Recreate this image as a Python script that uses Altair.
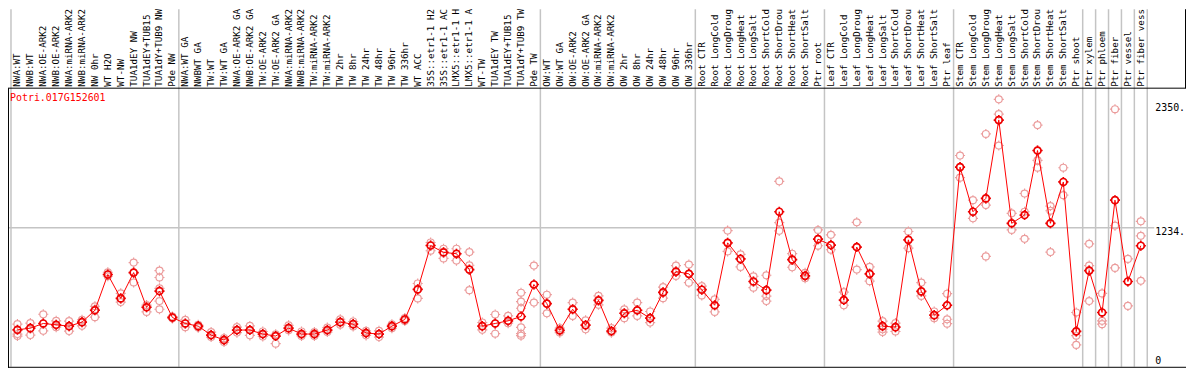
import altair as alt
import pandas as pd

gene = "Potri.017G152601"

# labels as far as they are visible in the header (long names are cut at the top edge)
categories = [
    "NWA:WT", "NWB:WT", "NWA:OE-ARK2", "NWB:OE-ARK2", "NWA:miRNA-ARK2", "NWB:miRNA-ARK2",
    "NW 0hr", "WT H2O", "WT-NW", "TUA1dEY NW", "TUA1dEY+TUB15", "TUA1dY+TUB9 NW", "Pde NW",
    "NWA:WT GA", "NWBWT GA", "TW:WT", "TW:WT GA", "NWA:OE-ARK2 GA", "NWB:OE-ARK2 GA",
    "TW:OE-ARK2", "TW:OE-ARK2 GA", "NWA:miRNA-ARK2", "NWB:miRNA-ARK2", "TW:miRNA-ARK2",
    "TW:miRNA-ARK2 ", "TW 2hr", "TW 8hr", "TW 24hr", "TW 48hr", "TW 96hr", "TW 336hr", "WT ACC",
    "35S::etr1-1 H2", "35S::etr1-1 AC", "LMX5::etr1-1 H", "LMX5::etr1-1 A", "WT-TW",
    "TUA1dEY TW", "TUA1dEY+TUB15 ", "TUA1dY+TUB9 TW", "Pde TW",
    "OW:WT", "OW:WT GA", "OW:OE-ARK2", "OW:OE-ARK2 GA", "OW:miRNA-ARK2", "OW:miRNA-ARK2 ",
    "OW 2hr", "OW 8hr", "OW 24hr", "OW 48hr", "OW 96hr", "OW 336hr",
    "Root CTR", "Root LongCold", "Root LongDroug", "Root LongHeat", "Root LongSalt",
    "Root ShortCold", "Root ShortDrou", "Root ShortHeat", "Root ShortSalt", "Ptr root",
    "Leaf CTR", "Leaf LongCold", "Leaf LongDroug", "Leaf LongHeat", "Leaf LongSalt",
    "Leaf ShortCold", "Leaf ShortDrou", "Leaf ShortHeat", "Leaf ShortSalt", "Ptr leaf",
    "Stem CTR", "Stem LongCold", "Stem LongDroug", "Stem LongHeat", "Stem LongSalt",
    "Stem ShortCold", "Stem ShortDrou", "Stem ShortHeat", "Stem ShortSalt", "Ptr shoot",
    "Ptr xylem", "Ptr phloem", "Ptr fiber", "Ptr vessel", "Ptr fiber vess",
]

means = [
    315, 330, 372, 360, 348, 384, 491, 813, 598, 830, 518, 664, 426,
    372, 348, 268, 223, 313, 313, 277, 259, 330, 277, 277, 313, 384, 366, 286, 277, 348, 408,
    679, 1074, 1012, 1000, 857, 348, 372, 396, 435, 723,
    551, 310, 500, 357, 580, 304, 464, 491, 420, 652, 839, 819,
    676, 536, 1098, 953, 750, 672, 1378, 947, 801, 1131,
    1078, 583, 1060, 819, 348, 339, 1125, 661, 447, 536,
    1780, 1378, 1498, 2203, 1274, 1348, 1929, 1274, 1646, 301,
    848, 471, 1482, 750, 1072,
]

replicates = [
    [366, 277, 259], [375, 330, 268], [455, 372, 306], [396, 360, 339], [393, 348, 304],
    [405, 384, 351], [527, 500, 429], [833, 813, 797], [643, 598, 565], [920, 830, 741],
    [538, 518, 476], [848, 786, 688, 574, 500], [435, 426, 418],
    [405, 372, 339], [360, 348, 335], [295, 268, 250], [240, 223, 205], [340, 313, 290],
    [350, 313, 265], [300, 277, 255], [275, 259, 190], [355, 330, 310], [300, 277, 260],
    [295, 277, 260], [335, 313, 295], [410, 384, 360], [390, 366, 345], [305, 286, 265],
    [306, 277, 250], [365, 348, 330], [420, 408, 395], [732, 679, 598], [1101, 1074, 1027],
    [1045, 1012, 958], [1045, 1000, 938], [1015, 896, 672], [381, 348, 315], [453, 372, 280],
    [440, 396, 375], [649, 569, 509, 337, 280, 262], [893, 723, 560],
    [631, 551, 464], [330, 310, 290], [560, 500, 440], [400, 357, 320], [620, 580, 540],
    [330, 304, 290], [500, 464, 420], [560, 491, 440], [480, 420, 380], [700, 652, 600],
    [893, 839, 800], [902, 819, 739],
    [708, 676, 625], [589, 536, 476], [1208, 1098, 1021], [994, 953, 881], [797, 750, 694],
    [806, 672, 619, 574], [1652, 1280, 1206], [1000, 947, 878], [828, 801, 780],
    [1214, 1131, 1072],
    [1170, 1078, 1036], [655, 583, 536], [1283, 1060, 857], [881, 819, 753],
    [393, 348, 320, 295], [375, 339, 300], [1200, 1125, 1050], [740, 661, 620],
    [480, 447, 420], [640, 536, 410, 370],
    [1884, 1780, 1685], [1482, 1378, 1319], [2078, 1498, 1438, 976], [2390, 2257, 2203, 1974],
    [1364, 1274, 1214], [1542, 1378, 1134], [2158, 1929, 1840, 1774], [1429, 1387, 1274, 1015],
    [1774, 1646, 1527], [471, 301, 262, 179],
    [1089, 893, 848, 574], [643, 471, 396, 366], [2301, 1482, 1253, 872], [953, 750, 530],
    [1292, 1161, 1072, 756],
]

group_bounds = [0, 13, 41, 53, 63, 73, 83, 84, 85, 86, 87, 88]
grid_values = [1234]
tick_values = [1234, 2350]
tick_labels = ["1234.", "2350."]
zero_label = ["0"]

# ---- tables ----
n = len(categories)
mean_df = pd.DataFrame({"pos": [i + 0.5 for i in range(n)], "cat": categories, "value": means})
rep_df = pd.DataFrame(
    [{"pos": i + 0.5, "value": v} for i, vs in enumerate(replicates) for v in vs]
)
bound_df = pd.DataFrame({"b": group_bounds})
grid_df = pd.DataFrame({"v": grid_values})
tick_df = pd.DataFrame({"v": tick_values, "label": tick_labels})
zero_df = pd.DataFrame({"label": zero_label})
gene_df = pd.DataFrame({"label": [gene]})

W, H = 1186, 362
HEAD = 79.5
xs = alt.Scale(domain=[0, n], range=[3, 1147], nice=False, zero=False)
ys = alt.Scale(domain=[0, 2500], range=[358, 78.4], nice=False, zero=False)
MONO = "DejaVu Sans Mono"
SYM = "M-1,0A1,1,0,1,1,1,0A1,1,0,1,1,-1,0M0,-1L0,-1.45M0,1L0,1.45M-1,0L-1.45,0M1,0L1.45,0"

seps = alt.Chart(bound_df).mark_rule(color="#c4c4c4", strokeWidth=1.5).encode(
    x=alt.X("b:Q", scale=xs, axis=None), y=alt.value(0), y2=alt.value(360)
)
hgrid = alt.Chart(grid_df).mark_rule(color="#c4c4c4", strokeWidth=1.5).encode(
    y=alt.Y("v:Q", scale=ys, axis=None), x=alt.value(0), x2=alt.value(1154)
)
frame_top = alt.Chart(gene_df).mark_rule(color="black", strokeWidth=1).encode(
    y=alt.value(HEAD), x=alt.value(0), x2=alt.value(W)
)
frame_left = alt.Chart(gene_df).mark_rule(color="black", strokeWidth=1).encode(
    x=alt.value(0.5), y=alt.value(HEAD), y2=alt.value(361)
)
frame_bottom = alt.Chart(gene_df).mark_rule(color="black", strokeWidth=1).encode(
    y=alt.value(360.5), x=alt.value(0), x2=alt.value(W)
)
frame_right = alt.Chart(gene_df).mark_rule(color="black", strokeWidth=1).encode(
    x=alt.value(W - 0.5), y=alt.value(0), y2=alt.value(HEAD)
)

reps_layer = alt.Chart(rep_df).mark_point(
    shape=SYM, size=49, filled=False, color="#eb9c9c", strokeWidth=1.2, opacity=1
).encode(x=alt.X("pos:Q", scale=xs, axis=None), y=alt.Y("value:Q", scale=ys, axis=None))

line_layer = alt.Chart(mean_df).mark_line(color="#ff0000", strokeWidth=1).encode(
    x=alt.X("pos:Q", scale=xs, axis=None), y=alt.Y("value:Q", scale=ys, axis=None)
)
mean_layer = alt.Chart(mean_df).mark_point(
    shape=SYM, size=49, filled=False, color="#ee0000", strokeWidth=1.7, opacity=1
).encode(x=alt.X("pos:Q", scale=xs, axis=None), y=alt.Y("value:Q", scale=ys, axis=None))

header = alt.Chart(mean_df).mark_text(
    angle=270, align="left", baseline="middle", font=MONO, fontSize=9.3, color="black"
).encode(x=alt.X("pos:Q", scale=xs, axis=None), y=alt.value(HEAD - 1.5), text="cat:N")

gene_text = alt.Chart(gene_df).mark_text(
    align="left", baseline="middle", font=MONO, fontSize=10, color="#ff0000"
).encode(x=alt.value(2), y=alt.value(89), text="label:N")

ticks_text = alt.Chart(tick_df).mark_text(
    align="left", baseline="middle", font=MONO, fontSize=10, color="black", dy=4
).encode(x=alt.value(1155), y=alt.Y("v:Q", scale=ys, axis=None), text="label:N")
zero_text = alt.Chart(zero_df).mark_text(
    align="left", baseline="middle", font=MONO, fontSize=10, color="black"
).encode(x=alt.value(1155), y=alt.value(354), text="label:N")

chart = alt.layer(
    seps, hgrid, frame_top, frame_left, frame_bottom, frame_right,
    reps_layer, line_layer, mean_layer, header, gene_text, ticks_text, zero_text
).properties(
    width=W, height=H, autosize=alt.AutoSizeParams(type="none"), padding=0, background="white"
).configure_view(stroke=None)

chart.save("out.html", embed_options={"renderer": "svg", "actions": False})
